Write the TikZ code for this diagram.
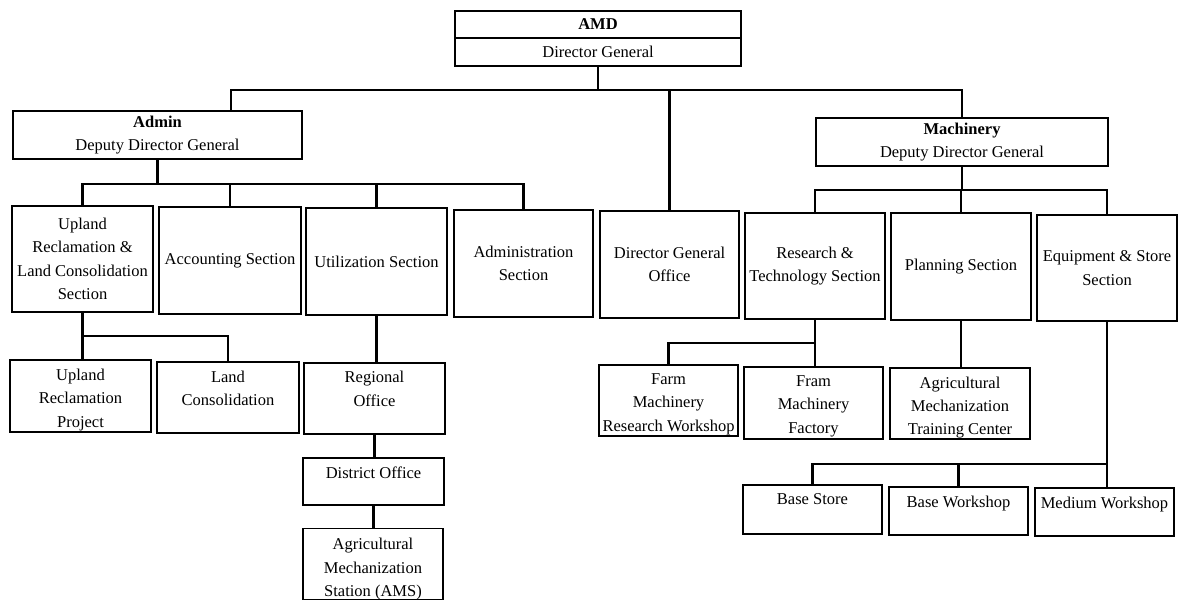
\documentclass[tikz,border=0pt]{standalone}
\usepackage{fontspec}
\setmainfont{Liberation Serif}
\newcommand\orgfont{\fontsize{16.5}{23.5}\selectfont}
\begin{document}
\begin{tikzpicture}[x=1pt,y=-1pt,
  box/.style={draw, line width=1.3pt, inner sep=2pt, align=center, font=\orgfont},
  sz/.style 2 args={minimum width=#1pt, minimum height=#2pt},
  toptext/.style={anchor=north, yshift=-9pt, inner sep=0pt, align=center, font=\orgfont},
  link/.style={draw, line width=2.4pt, line cap=rect}]
\useasboundingbox (0,0) rectangle (1184,604);

% --- top level ---
\node[box, sz={286}{27}] (amd)  at (598,24.5) {\textbf{AMD}};
\node[box, sz={286}{28}] (dgen) at (598,52)   {Director General};

% --- deputy directors ---
\node[box, sz={289}{48}] (admin) at (157.5,135) {\textbf{Admin}\\Deputy Director General};
\node[box, sz={292}{48}] (mach)  at (962,142)   {\textbf{Machinery}\\Deputy Director General};

% --- sections ---
\node[box, sz={141}{106}] (upland) at (82.5,259)   {Upland\\Reclamation \&\\Land Consolidation\\Section};
\node[box, sz={142}{107}] (acct)   at (230,260.5)  {Accounting Section};
\node[box, sz={141}{107}] (util)   at (376.5,261.5){Utilization Section};
\node[box, sz={139}{107}] (admsec) at (523.5,263.5){Administration\\Section};
\node[box, sz={139}{107}] (dgo)    at (669.5,264.5){Director General\\Office};
\node[box, sz={140}{106}] (rt)     at (815,266)    {Research \&\\Technology Section};
\node[box, sz={140}{107}] (plan)   at (961,266.5)  {Planning Section};
\node[box, sz={140}{106}] (equip)  at (1107,268)   {Equipment \& Store\\Section};

% --- units below the sections ---
\node[box, sz={141}{72}, label={[toptext]north:{Upland\\Reclamation\\Project}}] (urp) at (80.5,396) {};
\node[box, sz={142}{71}, label={[toptext]north:{Land\\Consolidation}}] (lc) at (228,397.5) {};
\node[box, sz={141}{71}, label={[toptext]north:{Regional\\Office}}] (reg) at (374.5,398.5) {};
\node[box, sz={139}{71}, label={[toptext]north:{Farm\\Machinery\\Research Workshop}}] (farm) at (668.5,400.5) {};
\node[box, sz={139}{72}, label={[toptext]north:{Fram\\Machinery\\Factory}}] (fram) at (813.5,403) {};
\node[box, sz={140}{71}, label={[toptext]north:{Agricultural\\Mechanization\\Training Center}}] (amtc) at (960,403.5) {};

\node[box, sz={141}{47}, label={[toptext]north:{District Office}}] (dist) at (373.5,481.5) {};
\node[box, sz={140}{71}, label={[toptext,yshift=-1pt]north:{Agricultural\\Mechanization\\Station (AMS)}}] (ams) at (373,564) {};

\node[box, sz={139}{49}, label={[toptext]north:{Base Store}}] (bs) at (812.5,509.5) {};
\node[box, sz={139}{48}, label={[toptext]north:{Base Workshop}}] (bw) at (958.5,511) {};
\node[box, sz={139}{48}, label={[toptext]north:{Medium Workshop}}] (mw) at (1104.5,512) {};

% --- bus lines ---
\coordinate (busL) at (231,90);
\coordinate (busR) at (962,90);
\coordinate (abus) at (0,184);
\coordinate (mbus) at (0,190);
\coordinate (ubus) at (0,336);
\coordinate (rbus) at (0,343);
\coordinate (ebus) at (0,464);

% director general to deputies and office
\draw[link] (admin.north -| busL) -- (busL) -- (busR) -- (mach.north);
\draw[link] (dgen.south) -- (dgen.south |- busL);
\draw[link] (dgo.north) -- (dgo.north |- busL);

% admin branch
\draw[link] (admin.south) -- (admin.south |- abus);
\draw[link] (upland.north) |- (admsec.north |- abus) -- (admsec.north);
\draw[link] (acct.north) -- (acct.north |- abus);
\draw[link] (util.north) -- (util.north |- abus);

% machinery branch
\draw[link] (mach.south) -- (mach.south |- mbus);
\draw[link] (rt.north) |- (equip.north |- mbus) -- (equip.north);
\draw[link] (plan.north) -- (plan.north |- mbus);

% upland reclamation units
\draw[link] (upland.south) |- (lc.north |- ubus) -- (lc.north);
\draw[link] (upland.south |- ubus) -- (upland.south |- urp.north);

% utilization chain
\draw[link] (util.south) -- (util.south |- reg.north);
\draw[link] (reg.south) -- (reg.south |- dist.north);
\draw[link] (dist.south) -- (dist.south |- ams.north);

% research & technology units
\draw[link] (rt.south) |- (farm.north |- rbus) -- (farm.north);
\draw[link] (rt.south |- rbus) -- (rt.south |- fram.north);

% planning unit
\draw[link] (plan.south) -- (plan.south |- amtc.north);

% equipment & store units
\draw[link] (equip.south) -- (equip.south |- mw.north);
\draw[link] (bs.north) |- (equip.south |- ebus);
\draw[link] (bw.north) -- (bw.north |- ebus);
\end{tikzpicture}
\end{document}
